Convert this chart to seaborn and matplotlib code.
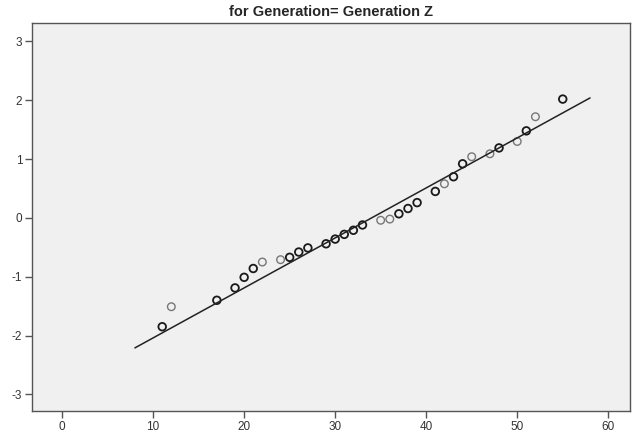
import matplotlib
matplotlib.use("Agg")
import matplotlib.pyplot as plt
import pandas as pd
import seaborn as sns

# Observed values and expected normal values (Q-Q plot)
observed = [11, 12, 17, 19, 20, 21, 22, 24, 25, 26, 27, 29, 30, 31, 32, 33,
            35, 36, 37, 38, 39, 41, 42, 43, 44, 45, 47, 48, 50, 51, 52, 55]
expected = [-1.85, -1.51, -1.40, -1.19, -1.01, -0.86, -0.75, -0.71, -0.67,
            -0.58, -0.51, -0.44, -0.36, -0.28, -0.21, -0.12, -0.04, -0.02,
            0.07, 0.16, 0.26, 0.45, 0.58, 0.70, 0.92, 1.04, 1.09, 1.19, 1.30,
            1.48, 1.72, 2.02]
# repeated cases draw darker
repeated = [1, 0, 1, 1, 1, 1, 0, 0, 1, 1, 1, 1, 1, 1, 1, 1,
            0, 0, 1, 1, 1, 1, 0, 1, 1, 0, 0, 1, 0, 1, 0, 1]

line_x = [8, 58]
line_y = [-2.21, 2.04]

sns.set_style("ticks")
plt.rcParams["font.family"] = ["Liberation Sans Narrow", "Liberation Sans", "DejaVu Sans"]
plt.rcParams["axes.unicode_minus"] = False

frame = pd.DataFrame({"observed": observed, "expected": expected,
                      "kind": ["dup" if r else "single" for r in repeated]})

figure = plt.figure(figsize=(6.41, 4.38), dpi=100)
axis = figure.add_axes([0.05, 0.062, 0.933, 0.885])
axis.set_facecolor("#f0f0f0")

sns.lineplot(x=line_x, y=line_y, color="#222222", linewidth=1.1, ax=axis)
for kind, edge, width in [("single", "#777777", 1.0), ("dup", "#1a1a1a", 1.3)]:
    part = frame[frame["kind"] == kind]
    sns.scatterplot(data=part, x="observed", y="expected", ax=axis,
                    facecolors="none", edgecolor=edge, linewidth=width,
                    s=30, marker="o", legend=False)

axis.set_xlim(-3.3, 62.4)
axis.set_ylim(-3.28, 3.31)
axis.set_xticks(range(0, 61, 10))
axis.set_yticks(range(-3, 4))
axis.set_xlabel("")
axis.set_ylabel("")
axis.tick_params(direction="out", length=5, width=1, color="#555555",
                 labelsize=8.5, labelcolor="#333333", pad=2)
for label in axis.get_xticklabels() + axis.get_yticklabels():
    label.set_family(["Liberation Sans", "DejaVu Sans"])
for spine in axis.spines.values():
    spine.set_color("#555555")
    spine.set_linewidth(1)
axis.set_title("for Generation= Generation Z", fontsize=10.5,
               fontweight="bold", pad=5)

figure.savefig("out.png", dpi=100)
plt.close()
